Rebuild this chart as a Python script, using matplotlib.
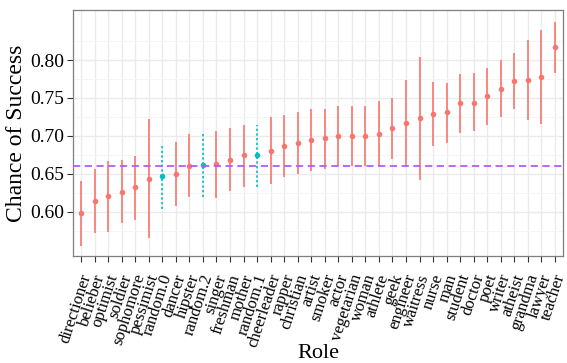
import numpy as np
import matplotlib.pyplot as plt
from matplotlib.transforms import ScaledTranslation

plt.rcParams['font.family'] = ['Liberation Serif', 'DejaVu Serif']

# roles sorted by estimated chance of success
roles = ['directioner', 'belieber', 'optimist', 'soldier', 'sophomore', 'pessimist',
         'random.0', 'dancer', 'hipster', 'random.2', 'singer', 'freshman', 'mother',
         'random.1', 'cheerleader', 'rapper', 'christian', 'artist', 'smoker', 'actor',
         'vegetarian', 'woman', 'athlete', 'geek', 'engineer', 'waitress', 'nurse', 'man',
         'student', 'doctor', 'poet', 'writer', 'atheist', 'grandma', 'lawyer', 'teacher']
estimate = [0.598, 0.614, 0.621, 0.626, 0.633, 0.643, 0.647, 0.650, 0.661, 0.662,
            0.663, 0.668, 0.675, 0.675, 0.680, 0.687, 0.691, 0.695, 0.697, 0.700,
            0.700, 0.700, 0.703, 0.711, 0.7175, 0.723, 0.729, 0.731, 0.743, 0.744,
            0.753, 0.7625, 0.773, 0.774, 0.778, 0.817]
lower = [0.555, 0.572, 0.573, 0.585, 0.589, 0.565, 0.604, 0.608, 0.619, 0.620,
         0.618, 0.627, 0.633, 0.633, 0.636, 0.646, 0.650, 0.654, 0.656, 0.661,
         0.661, 0.661, 0.661, 0.670, 0.661, 0.642, 0.6865, 0.691, 0.704, 0.706,
         0.714, 0.725, 0.7355, 0.721, 0.716, 0.783]
upper = [0.641, 0.657, 0.6675, 0.6685, 0.674, 0.722, 0.688, 0.692, 0.702, 0.7045,
         0.707, 0.710, 0.715, 0.715, 0.725, 0.727, 0.731, 0.735, 0.736, 0.740,
         0.740, 0.740, 0.746, 0.750, 0.7735, 0.8035, 0.771, 0.7695, 0.781, 0.783,
         0.790, 0.7995, 0.809, 0.8265, 0.839, 0.850]
baseline = 0.661

red = '#F8766D'
cyan = '#00BFC4'

fig = plt.figure(figsize=(5.67, 3.63), dpi=100)
ax = fig.add_axes([73/567, 1 - 256/363, 490/567, 246/363])

x = np.arange(len(roles))
for i, r in enumerate(roles):
    is_random = r.startswith('random')
    c = cyan if is_random else red
    ls = (0, (1.2, 1.2)) if is_random else '-'
    ax.plot([x[i], x[i]], [lower[i], upper[i]], color=c, lw=1.4, ls=ls,
            alpha=0.85, zorder=3, solid_capstyle='butt')
    ax.plot(x[i], estimate[i], 'o', color=c, ms=4, mec='none', zorder=4)

ax.axhline(baseline, color='#B45CF8', lw=1.3, ls=(0, (4, 2.5)), zorder=5)

ax.set_xlim(-0.6, len(roles) - 0.4)
ax.set_ylim(0.5417, 0.866)
ax.set_yticks([0.60, 0.65, 0.70, 0.75, 0.80])
ax.set_yticklabels(['0.60', '0.65', '0.70', '0.75', '0.80'], fontsize=14)
ax.set_yticks(np.arange(0.575, 0.83, 0.05), minor=True)
ax.set_xticks(x)
ax.set_xticklabels([])

# rotated role labels, placed a bit below the ticks like the ggplot output
shift = ScaledTranslation(-2 / 100, -16 / 100, fig.dpi_scale_trans)
for i, r in enumerate(roles):
    ax.text(x[i], 0, r, transform=ax.get_xaxis_transform() + shift,
            rotation=72, ha='right', va='top', rotation_mode='anchor',
            fontsize=12)

ax.grid(True, which='major', color='#EBEBEB', lw=1.0, zorder=0)
ax.grid(True, which='minor', axis='y', color='#F4F4F4', lw=0.6, zorder=0)
ax.set_axisbelow(True)
for s in ax.spines.values():
    s.set_color('#7F7F7F')
    s.set_linewidth(0.9)
ax.tick_params(which='major', length=4.3, color='#333333', width=0.8, pad=2)
ax.tick_params(which='minor', length=0)

ax.set_ylabel('Chance of Success', fontsize=17, labelpad=2)
fig.text(318/567, 1 - 354/363, 'Role', ha='center', va='center', fontsize=16)

fig.savefig('out.png', dpi=100)
